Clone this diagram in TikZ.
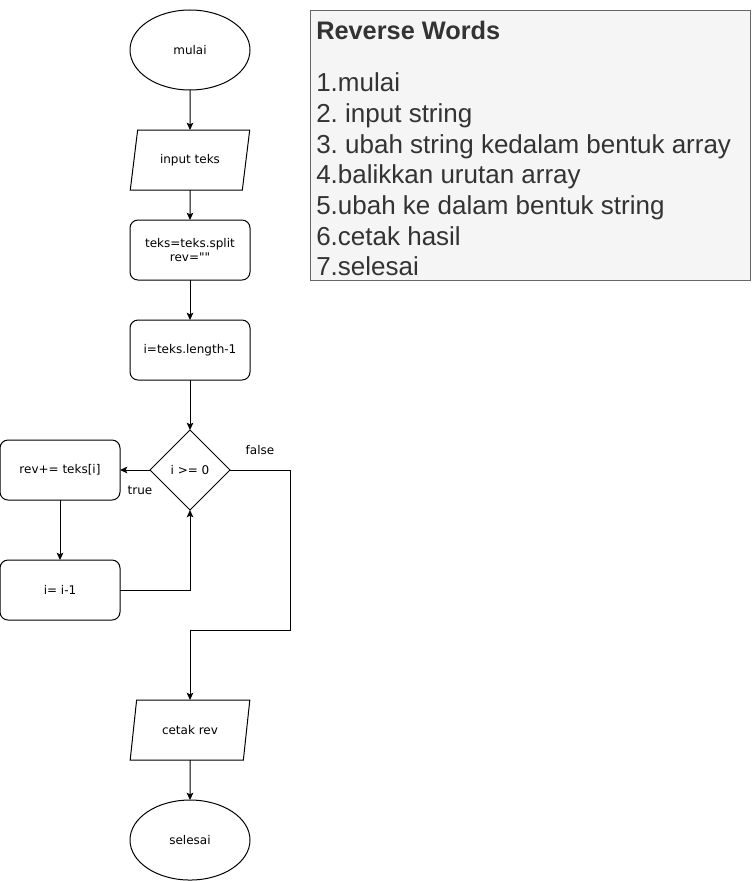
\documentclass[tikz,border=0pt]{standalone}
\usepackage{fontspec}
\usetikzlibrary{arrows, arrows.meta, shapes, positioning}
\newfontfamily\chartfont{DejaVu Sans}
\newfontfamily\notefont{Liberation Sans}
\definecolor{notefill}{HTML}{F5F5F5}
\definecolor{noteline}{HTML}{666666}
\definecolor{notetext}{HTML}{333333}
\frenchspacing
\tikzset{
  chart/.style={draw, line width=0.75pt, inner sep=0pt, outer sep=0pt, align=center,
    font=\chartfont\fontsize{9}{10.5}\selectfont},
  terminal/.style={chart, ellipse, minimum width=90pt, minimum height=60pt},
  io/.style={chart, trapezium, trapezium left angle=70, trapezium right angle=110,
    trapezium stretches=true, minimum width=90pt, minimum height=45pt},
  process/.style={chart, rectangle, rounded corners=6pt, minimum width=90pt, minimum height=45pt},
  decision/.style={chart, diamond, minimum width=60pt, minimum height=60pt},
  flow/.style={-{Stealth[length=5.5pt, width=5pt, inset=1.2pt]}, line width=0.75pt},
  lbl/.style={inner sep=0pt, font=\chartfont\fontsize{9}{10.5}\selectfont},
  notebox/.style={draw=noteline, fill=notefill, line width=0.75pt},
  notetitle/.style={inner sep=0pt, text=notetext, font=\notefont\bfseries\fontsize{19}{23}\selectfont},
  notestep/.style={inner sep=0pt, text=notetext, font=\notefont\fontsize{19.5}{23}\selectfont},
}

\begin{document}
\begin{tikzpicture}
  \useasboundingbox (0,0) rectangle (563.25pt,-660.75pt);

  \node[terminal] (start) at (142.5pt,-37.5pt) {mulai};
  \node[io, below=30pt of start] (in) {input teks};
  \node[process, below=22.5pt of in] (init) {teks=teks.split\\rev=""};
  \node[process, below=30pt of init] (idx) {i=teks.length-1};
  \node[decision, below=37.5pt of idx] (dec) {i >= 0};
  \node[process, left=22.5pt of dec] (rev) {rev+= teks[i]};
  \node[process, below=45pt of rev] (dec1) {i= i-1};
  \node[io, below=142.5pt of dec] (out) {cetak rev};
  \node[terminal, below=30pt of out] (stop) {selesai};

  \node[lbl, below=11.5pt of dec.west, xshift=-7.5pt] (truelbl) {true};
  \node[lbl, above=11pt of dec.east, xshift=22.5pt] (falselbl) {false};

  \coordinate[right=45pt of dec.east] (fturn);
  \coordinate[below=120pt of fturn] (fjoin);

  \draw[flow] (start) -- (in);
  \draw[flow] (in) -- (init);
  \draw[flow] (init) -- (idx);
  \draw[flow] (idx) -- (dec);
  \draw[flow] (dec) -- (rev);
  \draw[flow] (rev) -- (dec1);
  \draw[flow] (dec1.east) -| (dec.south);
  \draw[flow] (dec.east) -- (fturn) -- (fjoin) -| (out.north);
  \draw[flow] (out) -- (stop);

  % algorithm steps
  \node[notebox, anchor=north west, minimum width=330pt, minimum height=202.5pt] (note) at (232.5pt,-7.5pt) {};
  \node[notetitle, anchor=base west] (title) at (237pt,-30pt) {Reverse Words};
  \foreach \k/\txt in {1/1.mulai, 2/2. input string, 3/3. ubah string kedalam bentuk array,
      4/4.balikkan urutan array, 5/5.ubah ke dalam bentuk string, 6/6.cetak hasil, 7/7.selesai}
    \node[notestep, anchor=base west] (step\k) at (237pt,{-68.75pt-23pt*(\k-1)}) {\txt};
\end{tikzpicture}
\end{document}
